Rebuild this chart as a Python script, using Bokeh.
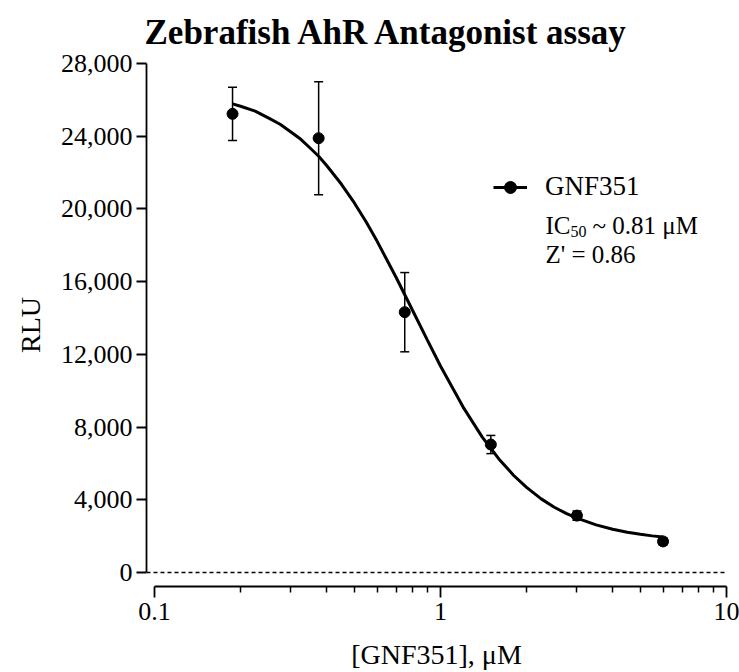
from bokeh.plotting import figure
from bokeh.models import (ColumnDataSource, Whisker, TeeHead, Span, Legend, LegendItem,
                          Label, FixedTicker, NumeralTickFormatter, Range1d)
from bokeh.embed import file_html
from bokeh.resources import INLINE

# ---- data ----
conc = [0.1875, 0.375, 0.75, 1.5, 3.0, 6.0]
rlu = [25230, 23890, 14320, 7040, 3130, 1710]
rlu_err = [1460, 3110, 2180, 500, 250, 200]

# fitted curve
curve_x = [0.1875, 0.2, 0.225, 0.25, 0.275, 0.3, 0.325, 0.35, 0.375, 0.4, 0.45, 0.5,
           0.55, 0.6, 0.7, 0.8, 0.9, 1.0, 1.2, 1.4, 1.6, 1.8, 2.0, 2.25, 2.5, 2.75,
           3.0, 3.5, 4.0, 4.5, 5.0, 5.5, 6.0]
curve_y = [25780, 25650, 25380, 25010, 24660, 24230, 23830, 23350, 22900, 22390,
           21370, 20330, 19280, 18230, 16230, 14400, 12780, 11360, 9100, 7450, 6250,
           5350, 4680, 4050, 3590, 3250, 2990, 2620, 2380, 2215, 2100, 2015, 1950]

x_major = [0.1, 1, 10]
x_minor = [0.2, 0.3, 0.4, 0.5, 0.6, 0.7, 0.8, 0.9, 2, 3, 4, 5, 6, 7, 8, 9]
y_ticks = [0, 4000, 8000, 12000, 16000, 20000, 24000, 28000]

FONT = "Liberation Serif"

src = ColumnDataSource(dict(
    x=conc, y=rlu,
    upper=[v + e for v, e in zip(rlu, rlu_err)],
    lower=[v - e for v, e in zip(rlu, rlu_err)],
))
csrc = ColumnDataSource(dict(x=curve_x, y=curve_y))

p = figure(width=739, height=672, x_axis_type="log",
           x_range=Range1d(0.0938, 10), y_range=Range1d(-770, 28000),
           output_backend="svg", toolbar_location=None,
           min_border_left=146, min_border_right=13, min_border_top=63, min_border_bottom=86)
p.outline_line_color = None
p.xgrid.visible = False
p.ygrid.visible = False
p.background_fill_color = "white"
p.border_fill_color = "white"

p.title.text = "Zebrafish AhR Antagonist assay"
p.title.text_font = FONT
p.title.text_font_style = "bold"
p.title.text_font_size = "35px"
p.title.align = "left"
p.title.vertical_align = "top"
p.title.offset = -2
p.title.standoff = 20
p.title.text_color = "black"

# zero reference line
p.add_layout(Span(location=0, dimension="width", line_color="black",
                  line_width=1.3, line_dash="4 3"))

# error bars
wh = Whisker(source=src, base="x", upper="upper", lower="lower", dimension="height",
             line_color="black", line_width=1.5,
             upper_head=TeeHead(size=9, line_width=1.5, line_color="black"),
             lower_head=TeeHead(size=9, line_width=1.5, line_color="black"))
p.add_layout(wh)

curve = p.line("x", "y", source=csrc, line_color="black", line_width=3)
pts = p.scatter("x", "y", source=src, size=11, color="black")

# axes
xa = p.xaxis[0]
xa.ticker = FixedTicker(ticks=x_major, minor_ticks=x_minor)
xa.formatter = NumeralTickFormatter(format="0.[0]")
xa.bounds = (0.1, 10)
xa.axis_line_width = 1.8
xa.axis_line_color = "black"
xa.major_tick_in = 0
xa.major_tick_out = 11
xa.major_tick_line_width = 1.8
xa.minor_tick_in = 0
xa.minor_tick_out = 6
xa.minor_tick_line_width = 1.5
xa.major_label_text_font = FONT
xa.major_label_text_font_size = "26px"
xa.major_label_text_color = "black"
xa.major_label_standoff = 5
xa.axis_label = "[GNF351], μM"
xa.axis_label_text_font = FONT
xa.axis_label_text_font_size = "28px"
xa.axis_label_text_font_style = "normal"
xa.axis_label_text_color = "black"
xa.axis_label_standoff = 16

ya = p.yaxis[0]
ya.ticker = FixedTicker(ticks=y_ticks, minor_ticks=[])
ya.formatter = NumeralTickFormatter(format="0,0")
ya.bounds = (0, 28000)
ya.axis_line_width = 1.8
ya.axis_line_color = "black"
ya.major_tick_in = 0
ya.major_tick_out = 10
ya.major_tick_line_width = 1.8
ya.major_label_text_font = FONT
ya.major_label_text_font_size = "26px"
ya.major_label_text_color = "black"
ya.major_label_standoff = 4
ya.axis_label = "RLU"
ya.axis_label_text_font = FONT
ya.axis_label_text_font_size = "28px"
ya.axis_label_text_font_style = "normal"
ya.axis_label_text_color = "black"
ya.axis_label_standoff = 12

# legend
leg = Legend(items=[LegendItem(label="GNF351", renderers=[curve, pts])],
             location=(347, 384), glyph_width=34, glyph_height=30, label_height=30,
             label_standoff=18, padding=0, margin=0, border_line_alpha=0,
             background_fill_alpha=0, label_text_font=FONT, label_text_font_size="27px",
             label_text_color="black")
p.add_layout(leg)

# annotation text
common = dict(x_units="screen", y_units="screen", text_font=FONT, text_color="black",
              text_baseline="alphabetic")
p.add_layout(Label(x=399, y=361, text="IC", text_font_size="25px", **common))
p.add_layout(Label(x=424, y=355, text="50", text_font_size="16px", **common))
p.add_layout(Label(x=446, y=361, text="~ 0.81 μM", text_font_size="25px", **common))
p.add_layout(Label(x=399, y=332, text="Z' = 0.86", text_font_size="25px", **common))

open("out.html", "w").write(file_html(p, INLINE))
